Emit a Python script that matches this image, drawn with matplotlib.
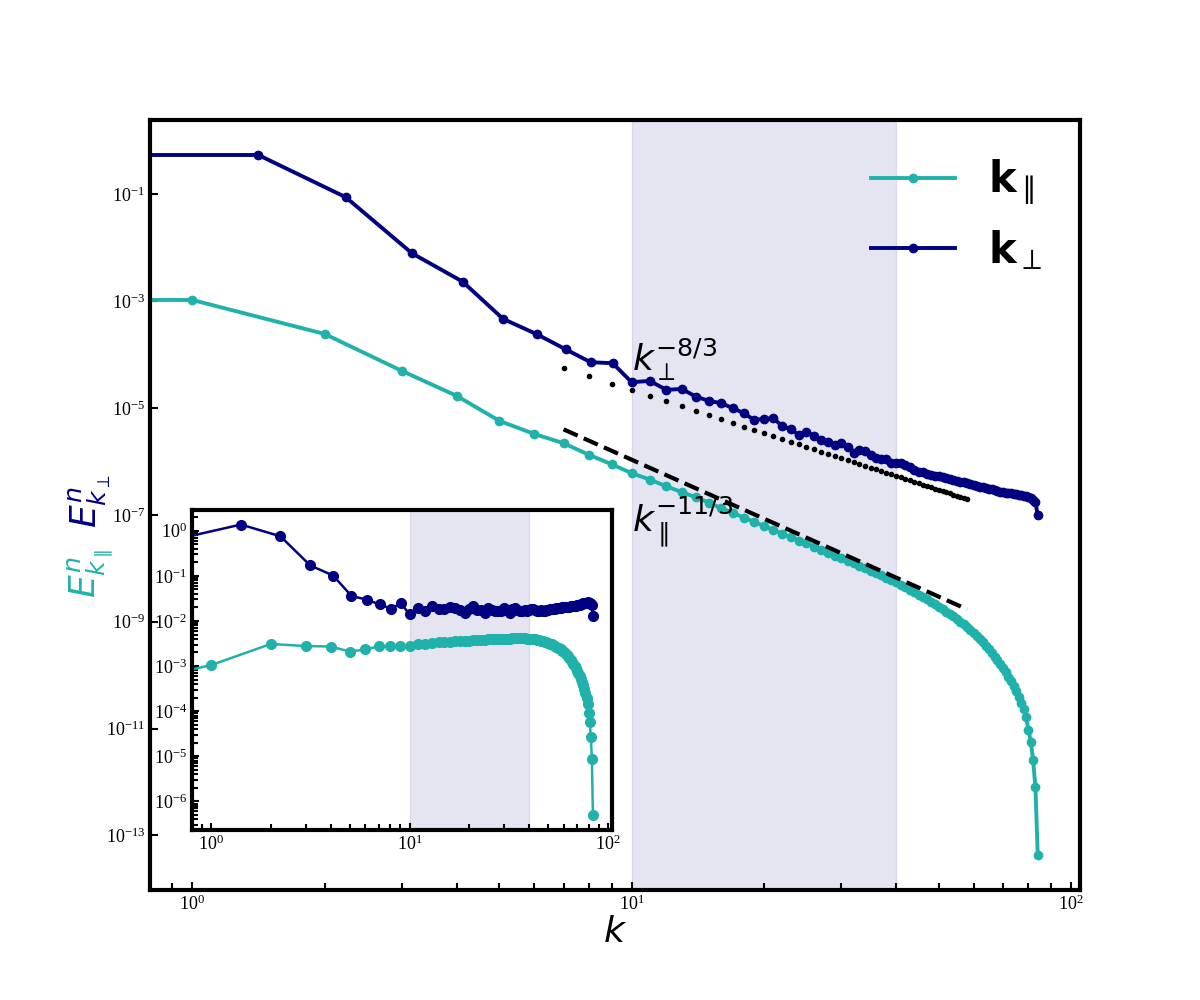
import numpy as np
import matplotlib
matplotlib.use('Agg')
import matplotlib.pyplot as plt

# tick labels are Times-like, math text stays DejaVu
plt.rcParams['font.family'] = ['Liberation Serif', 'DejaVu Sans']

# parallel spectrum: wavenumber bins and log10(E^n_k)
k_par = np.arange(0, 85)
logE_par = [-2.978, -2.978, -3.614, -4.306, -4.774, -5.241, -5.485, -5.659, -5.877, -6.052,
            -6.220, -6.339, -6.467, -6.574, -6.672, -6.772, -6.875, -6.962, -7.053, -7.129,
            -7.210, -7.278, -7.352, -7.413, -7.481, -7.536, -7.598, -7.649, -7.706, -7.762,
            -7.806, -7.859, -7.909, -7.948, -7.996, -8.042, -8.086, -8.130, -8.173, -8.224,
            -8.264, -8.314, -8.352, -8.400, -8.446, -8.492, -8.537, -8.581, -8.625, -8.673,
            -8.720, -8.766, -8.812, -8.858, -8.902, -8.952, -9.000, -9.048, -9.096, -9.153,
            -9.205, -9.261, -9.322, -9.383, -9.448, -9.512, -9.582, -9.651, -9.719, -9.792,
            -9.865, -9.948, -10.030, -10.117, -10.209, -10.305, -10.406, -10.517, -10.638, -10.788,
            -11.018, -11.248, -11.597, -12.097, -13.366]

# perpendicular spectrum
k_perp = [0, 1.414, 2.236, 3.162, 4.123, 5.099, 6.083, 7.071, 8.062, 9.055] + list(range(10, 85))
logE_perp = [-0.265, -0.265, -1.056, -2.104, -2.635, -3.333, -3.619, -3.900, -4.143, -4.162,
             -4.517, -4.493, -4.661, -4.643, -4.787, -4.867, -4.910, -5.004, -5.097, -5.223,
             -5.204, -5.191, -5.335, -5.397, -5.503, -5.441, -5.522, -5.597, -5.628, -5.690,
             -5.647, -5.733, -5.834, -5.789, -5.804, -5.878, -5.940, -5.952, -5.963, -6.023,
             -6.032, -6.031, -6.069, -6.106, -6.153, -6.189, -6.194, -6.229, -6.263, -6.267,
             -6.281, -6.294, -6.316, -6.328, -6.350, -6.361, -6.382, -6.393, -6.413, -6.423,
             -6.442, -6.456, -6.470, -6.483, -6.497, -6.510, -6.522, -6.535, -6.547, -6.564,
             -6.575, -6.587, -6.593, -6.599, -6.605, -6.610, -6.621, -6.631, -6.641, -6.650,
             -6.670, -6.689, -6.724, -6.758, -7.012]

# reference power laws
k_ref = np.arange(7, 59)
amp_perp, slope_perp = 1e-2, 8 / 3
amp_par, slope_par = 5e-3, 11 / 3

band = (10, 40)
c_par = 'lightseagreen'
c_perp = 'navy'


def style_axes(ax, length):
    for s in ax.spines.values():
        s.set_linewidth(3)
    ax.tick_params(which='both', direction='in', width=1.5, labelsize=13)
    ax.tick_params(which='major', length=length)
    ax.tick_params(which='minor', length=length - 1)


def main():
    kp = np.array(k_par, dtype=float)
    kq = np.array(k_perp, dtype=float)
    E_par = 10.0 ** np.array(logE_par)
    E_perp = 10.0 ** np.array(logE_perp)

    fig = plt.figure(figsize=(12, 10))
    ax = fig.add_subplot(111)
    ax.set_xscale('log')
    ax.set_yscale('log')

    ax.axvspan(band[0], band[1], color='navy', alpha=0.1)
    ax.plot(kp, E_par, '-o', color=c_par, lw=2.8, ms=6, label=r'$\mathbf{k}_\parallel$')
    ax.plot(kq, E_perp, '-o', color=c_perp, lw=2.8, ms=6, label=r'$\mathbf{k}_\perp$')
    ax.plot(k_ref, amp_perp * k_ref ** (-slope_perp), 'o', color='k', ms=3, ls='none')
    ax.plot(k_ref, amp_par * k_ref ** (-slope_par), '--', color='k', lw=3)

    ax.text(10, 5e-5, r'$k_\perp^{-8/3}$', fontsize=26, ha='left', va='baseline')
    ax.text(10, 5e-8, r'$k_\parallel^{-11/3}$', fontsize=26, ha='left', va='baseline')

    ax.set_xlabel(r'$k$', fontsize=26, labelpad=2)
    fig.text(0.075, 0.499, r'$E^n_{k_\perp}$', color=c_perp, fontsize=26,
             rotation=90, ha='center', va='center')
    fig.text(0.075, 0.427, r'$E^n_{k_\parallel}$', color=c_par, fontsize=26,
             rotation=90, ha='center', va='center')
    ax.legend(fontsize=30, frameon=False, loc='upper right')
    style_axes(ax, 6)

    # inset: compensated spectra
    ins = fig.add_axes([0.16, 0.17, 0.35, 0.32])
    ins.set_xscale('log')
    ins.set_yscale('log')
    ins.axvspan(band[0], band[1], color='navy', alpha=0.1)
    ins.plot(kq, E_perp * kq ** slope_perp, '-o', color=c_perp, lw=1.8, ms=7)
    ins.plot(kp, E_par * kp ** slope_par, '-o', color=c_par, lw=1.8, ms=7)
    style_axes(ins, 5)

    fig.savefig('out.png', dpi=100)


if __name__ == "__main__":
    main()
